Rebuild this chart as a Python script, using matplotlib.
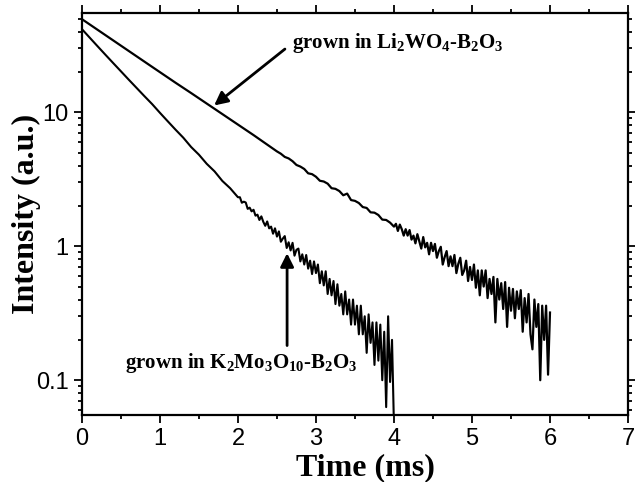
import numpy as np
import matplotlib
matplotlib.use('Agg')
import matplotlib.pyplot as plt
from matplotlib.ticker import FixedLocator, FixedFormatter, LogLocator, MultipleLocator, NullFormatter

plt.rcParams['mathtext.fontset'] = 'custom'
plt.rcParams['mathtext.rm'] = 'Liberation Serif:bold'
plt.rcParams['mathtext.it'] = 'Liberation Serif:bold'
plt.rcParams['mathtext.bf'] = 'Liberation Serif:bold'

# Li2WO4-B2O3 sample: smooth part (0 - 2.5 ms, step 0.1)
li_t_smooth = np.round(np.arange(0, 26) * 0.1, 3)
li_smooth = [49.5, 45.2, 41.3, 37.7, 34.4, 31.4, 28.7, 26.2, 23.9, 21.8,
             19.9, 18.2, 16.6, 15.2, 13.9, 12.7, 11.6, 10.6, 9.7, 8.85,
             8.1, 7.4, 6.75, 6.15, 5.6, 5.1]
# 2.55 - 4.0 ms, step 0.05
li_t_mid = np.round(2.55 + np.arange(0, 30) * 0.05, 3)
li_mid = [4.90, 4.64, 4.52, 4.31, 4.04, 3.93, 3.77, 3.50, 3.45, 3.30,
          3.08, 3.04, 2.93, 2.71, 2.68, 2.58, 2.40, 2.47, 2.21, 2.18,
          2.10, 1.96, 1.93, 1.79, 1.78, 1.71, 1.58, 1.57, 1.50, 1.40]
# 4.025 - 6.0 ms, step 0.025
li_t_tail = np.round(4.025 + np.arange(0, 80) * 0.025, 3)
li_tail = [1.47, 1.30, 1.45, 1.34, 1.20, 1.34, 1.20, 1.32, 1.12, 1.20,
           1.05, 1.23, 1.09, 0.96, 1.17, 0.98, 1.06, 0.87, 1.06, 0.92,
           1.04, 0.82, 0.92, 0.99, 0.73, 0.83, 0.92, 0.71, 0.84, 0.71,
           0.86, 0.63, 0.74, 0.82, 0.61, 0.66, 0.78, 0.55, 0.70, 0.56,
           0.73, 0.49, 0.66, 0.43, 0.66, 0.50, 0.66, 0.41, 0.57, 0.44,
           0.59, 0.27, 0.57, 0.40, 0.53, 0.34, 0.54, 0.25, 0.49, 0.33,
           0.48, 0.29, 0.46, 0.34, 0.47, 0.23, 0.41, 0.27, 0.44, 0.22,
           0.17, 0.40, 0.25, 0.37, 0.10, 0.36, 0.20, 0.36, 0.11, 0.32]

# K2Mo3O10-B2O3 sample: smooth part (0 - 2.0 ms, step 0.1)
k_t_smooth = np.round(np.arange(0, 21) * 0.1, 3)
k_smooth = [41.7, 36.0, 31.1, 26.9, 23.3, 20.2, 17.5, 15.2, 13.2, 11.5,
            9.9, 8.56, 7.41, 6.45, 5.50, 4.82, 4.12, 3.62, 3.07, 2.71, 2.32]
# 2.025 - 4.0 ms, step 0.025
k_t_tail = np.round(2.025 + np.arange(0, 80) * 0.025, 3)
k_tail = [2.32, 2.11, 2.15, 2.12, 1.90, 1.94, 1.82, 1.87, 1.69, 1.72,
          1.57, 1.67, 1.52, 1.42, 1.53, 1.36, 1.40, 1.24, 1.36, 1.18,
          1.29, 1.08, 1.14, 1.19, 0.97, 1.07, 0.93, 1.06, 0.85, 0.94,
          0.96, 0.77, 0.87, 0.73, 0.86, 0.68, 0.78, 0.62, 0.77, 0.63,
          0.73, 0.53, 0.65, 0.51, 0.65, 0.44, 0.57, 0.43, 0.55, 0.37,
          0.52, 0.36, 0.44, 0.31, 0.46, 0.31, 0.40, 0.26, 0.40, 0.26,
          0.36, 0.22, 0.36, 0.22, 0.30, 0.16, 0.31, 0.19, 0.27, 0.13,
          0.27, 0.14, 0.26, 0.10, 0.23, 0.063, 0.30, 0.097, 0.20, 0.045]

li_t = np.concatenate([li_t_smooth, li_t_mid, li_t_tail])
li_y = np.array(li_smooth + li_mid + li_tail)
k_t = np.concatenate([k_t_smooth, k_t_tail])
k_y = np.array(k_smooth + k_tail)

fig = plt.figure(figsize=(6.35, 4.82), dpi=100)
ax = fig.add_axes([0.129, 0.139, 0.860, 0.834])

ax.plot(li_t, li_y, color='black', lw=1.6)
ax.plot(k_t, k_y, color='black', lw=1.5)

ax.set_yscale('log')
ax.set_xlim(0, 7)
ax.set_ylim(0.055, 55)

ax.xaxis.set_major_locator(MultipleLocator(1))
ax.xaxis.set_minor_locator(MultipleLocator(0.5))
ax.yaxis.set_major_locator(FixedLocator([0.1, 1, 10]))
ax.yaxis.set_major_formatter(FixedFormatter(['0.1', '1', '10']))
ax.yaxis.set_minor_locator(LogLocator(base=10, subs=np.arange(2, 10)))
ax.yaxis.set_minor_formatter(NullFormatter())

for s in ax.spines.values():
    s.set_linewidth(1.6)
ax.tick_params(which='both', direction='out', top=True, right=True, width=1.3)
ax.tick_params(which='major', length=6, labelsize=17)
ax.tick_params(which='minor', length=3)
ax.tick_params(labeltop=False, labelright=False)
for lab in ax.get_xticklabels() + ax.get_yticklabels():
    lab.set_fontfamily('Liberation Sans')

ax.set_xlabel('Time (ms)', fontsize=23, fontweight='bold', family='Liberation Serif')
ax.xaxis.set_label_coords(0.52, -0.095)
ax.set_ylabel('Intensity (a.u.)', fontsize=23, fontweight='bold', family='Liberation Serif')
ax.yaxis.set_label_coords(-0.075, 0.5)

ax.annotate('', xy=(1.667, 10.9), xytext=(2.63, 30.5),
            arrowprops=dict(arrowstyle='-|>', color='black', lw=2, mutation_scale=20))
ax.text(2.69, 30, r'grown in Li$_2$WO$_4$-B$_2$O$_3$', fontsize=15, fontweight='bold',
        family='Liberation Serif', va='baseline', ha='left')

ax.annotate('', xy=(2.63, 0.93), xytext=(2.63, 0.173),
            arrowprops=dict(arrowstyle='-|>', color='black', lw=2, mutation_scale=20))
ax.text(0.55, 0.123, r'grown in K$_2$Mo$_3$O$_{10}$-B$_2$O$_3$', fontsize=15, fontweight='bold',
        family='Liberation Serif', va='baseline', ha='left')

fig.savefig('out.png', dpi=100)
